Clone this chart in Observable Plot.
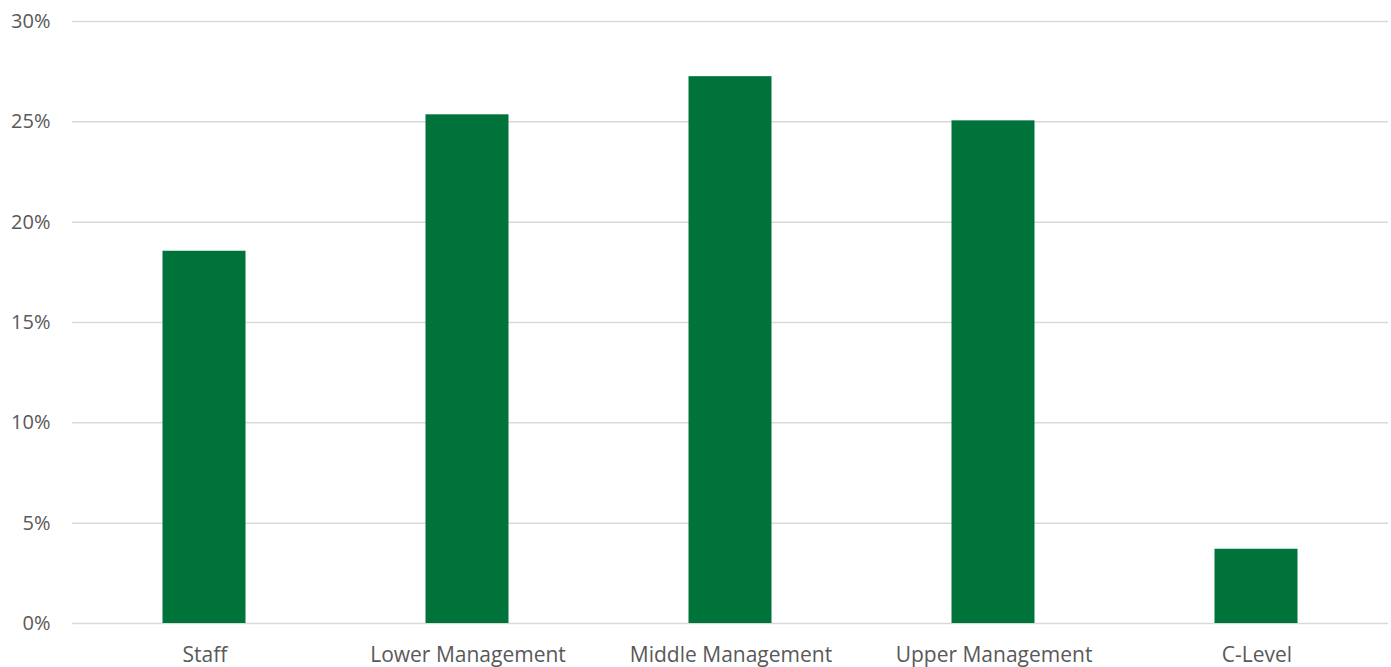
<!DOCTYPE html>
<html>
<head>
<meta charset="utf-8">
<script src="https://cdn.jsdelivr.net/npm/d3@7"></script>
<script src="https://cdn.jsdelivr.net/npm/@observablehq/plot@0.6"></script>
<style>
  html, body { margin: 0; padding: 0; background: #fff; }
  #chart svg { display: block; }
</style>
</head>
<body>
<div id="chart"></div>
<script>
const categories = ["Staff", "Lower Management", "Middle Management", "Upper Management", "C-Level"];
const values = [18.55, 25.35, 27.25, 25.05, 3.7];
const yTicks = [0, 5, 10, 15, 20, 25, 30];

const data = categories.map((c, i) => ({category: c, value: values[i]}));

const chart = Plot.plot({
  width: 1391,
  height: 667,
  marginLeft: 72,
  marginRight: 3,
  marginTop: 21,
  marginBottom: 44,
  style: {fontFamily: "'Open Sans', sans-serif", fontSize: "20px", color: "#595959", background: "#fff"},
  x: {domain: categories, padding: 0, label: null},
  y: {domain: [0, 30], label: null},
  marks: [
    Plot.gridY(yTicks, {stroke: "#d9d9d9", strokeOpacity: 1, strokeWidth: 1.5}),
    Plot.barY(data, {x: "category", y: "value", fill: "#00733a", insetLeft: 89.5, insetRight: 90.5}),
    Plot.axisY(yTicks, {tickSize: 0, tickPadding: 22, tickFormat: d => d + "%", fill: "#595959", fontSize: 20}),
    Plot.axisX({tickSize: 0, tickPadding: 24, fill: "#595959", fontSize: 21})
  ]
});
document.getElementById("chart").appendChild(chart);
</script>
</body>
</html>
